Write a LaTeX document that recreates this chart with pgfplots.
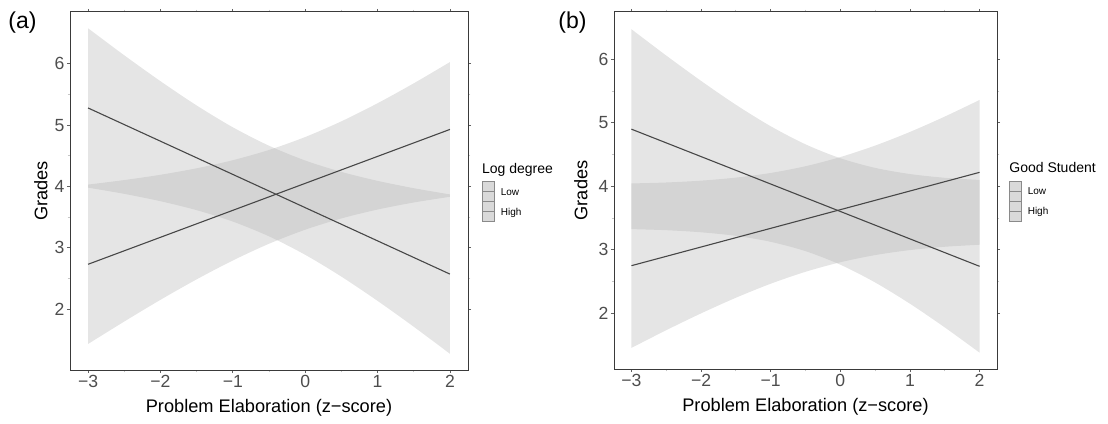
\documentclass[border=0pt]{standalone}
\usepackage{fontspec}
\setmainfont{Liberation Sans}
\usepackage{pgfplots}
\usepackage{pgfplotstable}
\pgfplotsset{compat=1.18}
\usepgfplotslibrary{fillbetween}

\definecolor{bandgray}{gray}{0.7}
\definecolor{linegray}{HTML}{474747}
\definecolor{ticktext}{HTML}{4D4D4D}
\definecolor{framegray}{HTML}{3A3A3A}
\definecolor{keyfill}{HTML}{D9D9D9}
\definecolor{keydraw}{HTML}{8A8A8A}

% x, decreasing band (du/dl), increasing band (iu/il), the two fitted lines
\pgfplotstableread{
x    du    dl    iu    il    d     i
-3   6.580 3.980 4.030 1.430 5.280 2.730
-2.5 6.139 3.879 4.104 1.796 5.009 2.950
-2   5.717 3.759 4.190 2.150 4.738 3.170
-1.5 5.321 3.613 4.296 2.484 4.467 3.390
-1   4.965 3.427 4.428 2.792 4.196 3.610
-0.5 4.664 3.186 4.595 3.065 3.925 3.830
0    4.423 2.885 4.806 3.294 3.654 4.050
0.5  4.237 2.529 5.062 3.478 3.383 4.270
1    4.091 2.133 5.357 3.623 3.112 4.490
1.5  3.971 1.711 5.682 3.738 2.841 4.710
2    3.870 1.270 6.029 3.831 2.570 4.930
}\bandsA

\pgfplotstableread{
x    du    dl    iu    il    d     i
-3   6.474 3.326 4.045 1.455 4.900 2.750
-2.5 6.059 3.309 4.060 1.734 4.684 2.897
-2   5.660 3.276 4.089 1.999 4.468 3.044
-1.5 5.284 3.220 4.137 2.245 4.252 3.191
-1   4.946 3.126 4.210 2.466 4.036 3.338
-0.5 4.661 2.979 4.316 2.654 3.820 3.485
0    4.442 2.766 4.460 2.804 3.604 3.632
0.5  4.290 2.486 4.641 2.917 3.388 3.779
1    4.193 2.151 4.856 2.996 3.172 3.926
1.5  4.134 1.778 5.098 3.048 2.956 4.073
2    4.100 1.380 5.360 3.080 2.740 4.220
}\bandsB

\pgfplotsset{
  elab/.style={
    scale only axis,
    anchor=north west,
    clip=false,
    xmin=-3.25, xmax=2.25,
    xtick={-3,...,2},
    xticklabels={−3,−2,−1,0,1,2},
    ytick={2,...,6},
    yticklabels={2,3,4,5,6},
    minor tick num=1,
    tick align=outside,
    major tick length=1.6pt,
    minor tick length=1.2pt,
    major tick style={framegray!80, line width=0.4pt},
    minor tick style={gray!45, line width=0.4pt},
    axis line style={framegray, line width=0.5pt},
    ticklabel style={font=\fontsize{8.8}{10}\selectfont, text=ticktext},
    xticklabel style={inner sep=1pt},
    yticklabel style={inner sep=1pt},
    label style={font=\fontsize{9.1}{11}\selectfont},
    xlabel={Problem Elaboration (z−score)},
    ylabel={Grades},
    xlabel style={at={(axis description cs:0.5,0)}, anchor=center, yshift=-19pt},
    legend style={draw=none, fill=none, inner sep=0pt, outer sep=0pt,
      anchor=north west, font=\fontsize{5}{6}\selectfont,
      row sep=5.2pt, column sep=3pt,
      nodes={inner sep=0pt, text height=3.6pt, text depth=1.1pt, anchor=base west}},
    legend cell align=left,
    legend image code/.code={
      \path (0pt,0pt) rectangle (6pt,0pt);
      \draw[overlay, draw=keydraw, fill=keyfill, line width=0.35pt] (0pt,-3.2pt) rectangle (6pt,1.8pt);
      \draw[overlay, draw=keydraw, fill=keyfill, line width=0.35pt] (0pt,1.8pt) rectangle (6pt,6.8pt);
    },
  },
  band/.style={fill=bandgray, fill opacity=0.34, draw=none, forget plot},
  edge/.style={draw=none, smooth, forget plot},
  fit/.style={linegray, line width=0.55pt, forget plot},
}

\begin{document}
\begin{tikzpicture}

\begin{axis}[elab,
    at={(35pt,-6pt)}, width=199pt, height=179pt,
    ymin=1.005, ymax=6.846,
    ylabel style={at={(axis description cs:-0.0734,0.5)}, anchor=center},
    legend style={at={(rel axis cs:1.0352,0.508)}},
  ]
  \addplot[edge, name path=adu] table[x=x, y=du] {\bandsA};
  \addplot[edge, name path=adl] table[x=x, y=dl] {\bandsA};
  \addplot[edge, name path=aiu] table[x=x, y=iu] {\bandsA};
  \addplot[edge, name path=ail] table[x=x, y=il] {\bandsA};
  \addplot[band] fill between[of=adu and adl];
  \addplot[band] fill between[of=aiu and ail];
  \addplot[fit] table[x=x, y=d] {\bandsA};
  \addplot[fit] table[x=x, y=i] {\bandsA};
  \addlegendimage{}
  \addlegendentry{Low}
  \addlegendimage{}
  \addlegendentry{High}
  \node[anchor=base west, font=\fontsize{7}{8}\selectfont, inner sep=0pt]
    at (rel axis cs:1.0344,0.5494) {Log degree};
\end{axis}

\begin{axis}[elab,
    at={(307pt,-6pt)}, width=191.5pt, height=178.5pt,
    ymin=1.123, ymax=6.745,
    ylabel style={at={(axis description cs:-0.0867,0.5)}, anchor=center},
    legend style={at={(rel axis cs:1.0313,0.508)}},
  ]
  \addplot[edge, name path=bdu] table[x=x, y=du] {\bandsB};
  \addplot[edge, name path=bdl] table[x=x, y=dl] {\bandsB};
  \addplot[edge, name path=biu] table[x=x, y=iu] {\bandsB};
  \addplot[edge, name path=bil] table[x=x, y=il] {\bandsB};
  \addplot[band] fill between[of=bdu and bdl];
  \addplot[band] fill between[of=biu and bil];
  \addplot[fit] table[x=x, y=d] {\bandsB};
  \addplot[fit] table[x=x, y=i] {\bandsB};
  \addlegendimage{}
  \addlegendentry{Low}
  \addlegendimage{}
  \addlegendentry{High}
  \node[anchor=base west, font=\fontsize{7}{8}\selectfont, inner sep=0pt]
    at (rel axis cs:1.0313,0.5499) {Good Student};
\end{axis}

\node[anchor=west, font=\fontsize{11.5}{13}\selectfont, inner sep=0pt] at (4pt,-11.5pt) {(a)};
\node[anchor=west, font=\fontsize{11.5}{13}\selectfont, inner sep=0pt] at (279pt,-11.5pt) {(b)};
\path (0pt,0pt) (554pt,-208.5pt);
\end{tikzpicture}
\end{document}
